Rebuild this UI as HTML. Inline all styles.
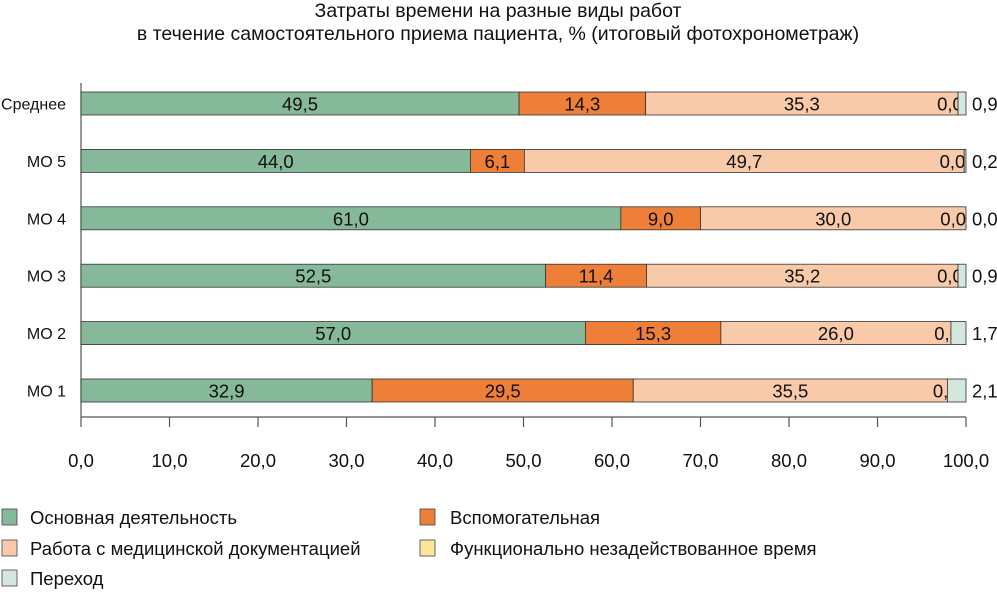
<!DOCTYPE html>
<html><head><meta charset="utf-8"><style>
html,body{margin:0;padding:0;background:#fff;}
svg{display:block;font-family:"Liberation Sans","DejaVu Sans",sans-serif;}
</style></head><body>
<svg id="chart" width="997" height="592" viewBox="0 0 997 592">
<text x="498" y="17" text-anchor="middle" font-size="19.5" fill="#111">Затраты времени на разные виды работ</text>
<text x="498" y="40" text-anchor="middle" font-size="19.5" fill="#111">в течение самостоятельного приема пациента, % (итоговый фотохронометраж)</text>
</svg>
<script>
const categories = ["Среднее","МО 5","МО 4","МО 3","МО 2","МО 1"];
const mainWork = [49.5,44.0,61.0,52.5,57.0,32.9];
const auxWork = [14.3,6.1,9.0,11.4,15.3,29.5];
const docWork = [35.3,49.7,30.0,35.2,26.0,35.5];
const idleTime = [0.0,0.0,0.0,0.0,0.0,0.0];
const transition = [0.9,0.2,0.0,0.9,1.7,2.1];
const xTicks = [0,10,20,30,40,50,60,70,80,90,100];
const seriesNames = ["Основная деятельность","Вспомогательная","Работа с медицинской документацией","Функционально незадействованное время","Переход"];

const NS="http://www.w3.org/2000/svg";
const svg=document.getElementById('chart');
const X0=81,X1=966,Y0=92,PITCH=57.4,BH=23;
const xs=v=>X0+(v/100)*(X1-X0);
const yb=i=>Y0+i*PITCH;
const fmt=v=>v.toFixed(1).replace('.',',');
function mk(tag,attrs){const e=document.createElementNS(NS,tag);for(const k in attrs)e.setAttribute(k,attrs[k]);svg.appendChild(e);return e;}
const colors=["#86b99a","#ee7f38","#f8caa9","#fde69a","#d3e7dc"];
const series=[mainWork,auxWork,docWork,idleTime,transition];
const keys=["main","aux","doc","idle","transition"];

const ya=mk('line',{x1:X0,y1:83,x2:X0,y2:417,stroke:'#555','stroke-width':1.2});


const xa=mk('line',{x1:X0,y1:417,x2:X1,y2:417,stroke:'#555','stroke-width':1.2});


xTicks.forEach(t=>{
  const tk=mk('line',{x1:xs(t),y1:417,x2:xs(t),y2:427,stroke:'#555','stroke-width':1.2});
  
  
  const tl=mk('text',{x:xs(t),y:467,'text-anchor':'middle','font-size':18.5,fill:'#111'});
  tl.textContent=fmt(t);
  
  
});

categories.forEach((c,i)=>{
  const y=yb(i);
  const cl=mk('text',{x:66,y:y+BH/2+6,'text-anchor':'end','font-size':16,fill:'#111'});
  cl.textContent=c;
  
  
  let acc=0;
  series.forEach((s,k)=>{
    const v=s[i];
    const r=mk('rect',{x:xs(acc),y:y,width:Math.max(0,xs(acc+v)-xs(acc)),height:BH,fill:colors[k],stroke:'#333','stroke-width':0.8});
    
    
    let lx,anchor='middle';
    if(k<3){lx=xs(acc+v/2);}
    else if(k===3){lx=xs(acc+v)+ (xs(transition[i])-xs(0))*0.6;anchor='end';}
    else{lx=972;anchor='start';}
    const t=mk('text',{x:lx,y:y+BH/2+7,'text-anchor':anchor,'font-size':18.5,fill:'#111'});
    t.textContent=fmt(v);
    
    
    acc+=v;
  });
});

const legPos=[[2,517],[420,517],[2,548],[420,548],[2,578]];
seriesNames.forEach((n,k)=>{
  const [lx,ly]=legPos[k];
  const sq=mk('rect',{x:lx,y:ly-8,width:15,height:16,fill:colors[k],stroke:'#444','stroke-width':0.8});
  
  
  const lt=mk('text',{x:lx+(k%2===1?30:28),y:ly+7,'font-size':18.5,fill:'#111'});
  lt.textContent=n;
  
  
});
</script>
</body></html>
